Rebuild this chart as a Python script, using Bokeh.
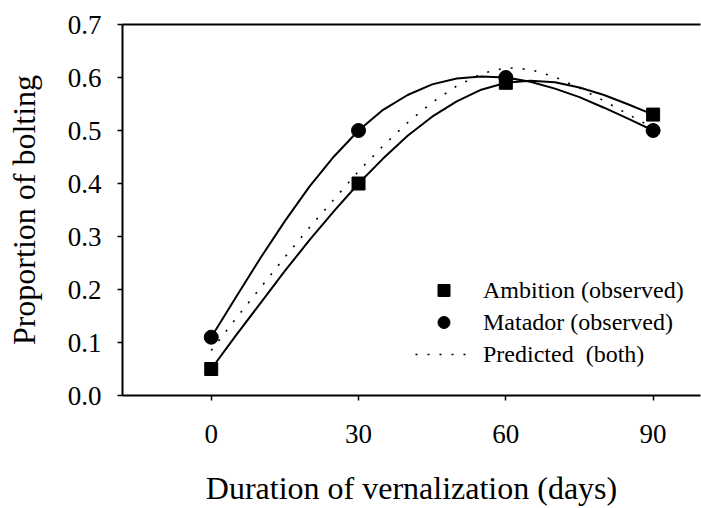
from bokeh.plotting import figure
from bokeh.models import (Range1d, FixedTicker, PrintfTickFormatter, LinearAxis,
                          Legend, LegendItem, ColumnDataSource)
from bokeh.embed import file_html
from bokeh.resources import INLINE

# ---- data ----
obs_days = [0, 30, 60, 90]
ambition_obs = [0.05, 0.40, 0.59, 0.53]
matador_obs = [0.11, 0.50, 0.60, 0.50]

curve_days = [0, 5, 10, 15, 20, 25, 30, 35, 40, 45, 50, 55, 60, 65, 70, 75, 80, 85, 90]
ambition_curve = [0.050, 0.113, 0.174, 0.235, 0.293, 0.348, 0.400, 0.447, 0.490, 0.526,
                  0.555, 0.577, 0.590, 0.594, 0.591, 0.581, 0.567, 0.549, 0.530]
matador_curve = [0.110, 0.185, 0.259, 0.329, 0.394, 0.451, 0.500, 0.539, 0.567, 0.587,
                 0.598, 0.602, 0.600, 0.592, 0.579, 0.563, 0.543, 0.522, 0.500]
predicted_curve = [0.085, 0.145, 0.203, 0.261, 0.317, 0.370, 0.423, 0.471, 0.515, 0.553,
                   0.584, 0.607, 0.6185, 0.615, 0.601, 0.580, 0.556, 0.530, 0.505]

x_ticks = [0, 30, 60, 90]
y_ticks = [0.0, 0.1, 0.2, 0.3, 0.4, 0.5, 0.6, 0.7]

FONT = "Liberation Serif"

obs_src = ColumnDataSource(dict(day=obs_days, amb=ambition_obs, mat=matador_obs))
curve_src = ColumnDataSource(dict(day=curve_days, amb=ambition_curve,
                                  mat=matador_curve, pred=predicted_curve))

p = figure(width=701, height=508,
           x_range=Range1d(-18.07, 99.65), y_range=Range1d(0, 0.7),
           output_backend="svg", toolbar_location=None,
           min_border_left=122, min_border_right=1,
           min_border_top=24, min_border_bottom=107)
p.outline_line_color = None
p.xgrid.visible = False
p.ygrid.visible = False
p.background_fill_color = "white"
p.border_fill_color = "white"

# axes
xa = p.xaxis[0]
xa.ticker = FixedTicker(ticks=x_ticks)
xa.axis_label = "Duration of vernalization (days)"
ya = p.yaxis[0]
ya.ticker = FixedTicker(ticks=y_ticks)
ya.formatter = PrintfTickFormatter(format="%.1f")
ya.axis_label = "Proportion of bolting"
for ax in (xa, ya):
    ax.axis_line_width = 2
    ax.axis_line_color = "black"
    ax.major_tick_in = 0
    ax.major_tick_out = 5
    ax.major_tick_line_width = 1.5
    ax.minor_tick_line_color = None
    ax.major_label_text_font = FONT
    ax.major_label_text_font_size = "27px"
    ax.major_label_text_color = "black"
    ax.axis_label_text_font = FONT
    ax.axis_label_text_font_size = "32px"
    ax.axis_label_text_font_style = "normal"
    ax.axis_label_text_color = "black"
xa.major_label_standoff = 24
xa.axis_label_standoff = 24
ya.major_label_standoff = 16
ya.axis_label_standoff = 23

top = LinearAxis(ticker=FixedTicker(ticks=[]), major_label_text_font_size="0px",
                 major_tick_line_color=None, minor_tick_line_color=None,
                 axis_line_width=2, axis_line_color="black")
p.add_layout(top, "above")

# curves
r_amb_line = p.line("day", "amb", source=curve_src, line_color="black", line_width=2)
r_mat_line = p.line("day", "mat", source=curve_src, line_color="black", line_width=2)
r_pred = p.line("day", "pred", source=curve_src, line_color="black", line_width=1.6,
                line_dash="2 10")

# observed points
r_amb = p.scatter("day", "amb", source=obs_src, marker="square", size=13,
                  fill_color="black", line_color="black")
r_mat = p.scatter("day", "mat", source=obs_src, marker="circle", size=14,
                  fill_color="black", line_color="black")

legend = Legend(items=[
    LegendItem(label="Ambition (observed)", renderers=[r_amb]),
    LegendItem(label="Matador (observed)", renderers=[r_mat]),
    LegendItem(label="Predicted  (both)", renderers=[r_pred]),
], location=(293, 26))
legend.border_line_color = None
legend.background_fill_alpha = 0
legend.padding = 0
legend.margin = 0
legend.spacing = 2
legend.glyph_width = 57
legend.glyph_height = 30
legend.label_height = 30
legend.label_standoff = 11
legend.label_text_font = FONT
legend.label_text_font_size = "24px"
legend.label_text_color = "black"
p.add_layout(legend)

open("out.html", "w").write(file_html(p, INLINE))
